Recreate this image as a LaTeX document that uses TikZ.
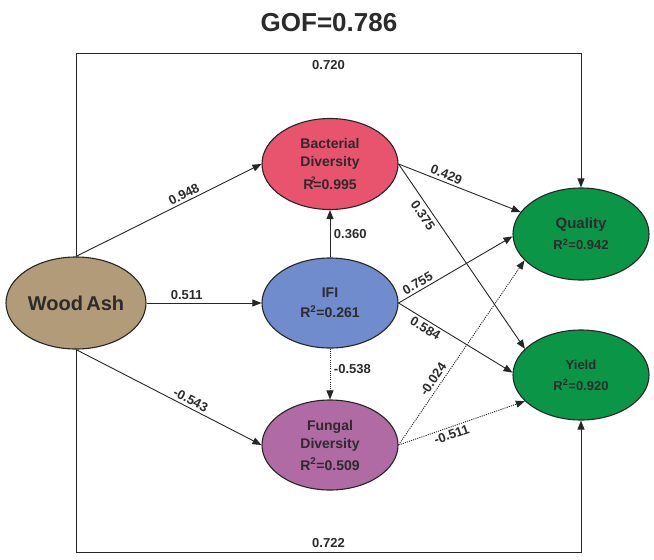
\documentclass[tikz,border=0pt]{standalone}
\usepackage{fontspec}
\setmainfont{Liberation Sans}
\usetikzlibrary{shapes.geometric,arrows.meta}
\definecolor{txt}{HTML}{2B2B2B}
\definecolor{cwood}{HTML}{B29B78}
\definecolor{cbac}{HTML}{E8546E}
\definecolor{cifi}{HTML}{708CCC}
\definecolor{cfun}{HTML}{B06AA4}
\definecolor{cgreen}{HTML}{0A9646}
\begin{document}
\begin{tikzpicture}[x=1pt,y=-1pt,
  ell/.style={ellipse, draw=black!85, line width=1.1pt, inner sep=0pt, text=txt, font=\bfseries, align=center},
  conn/.style={draw=black!85, line width=0.9pt, -{Triangle[length=9pt,width=7pt]}},
  dotconn/.style={conn, dash pattern=on 1.1pt off 1.1pt},
  lab/.style={font=\fontsize{13}{14}\selectfont\bfseries, text=txt, inner sep=2.5pt}]
\useasboundingbox (0,0) rectangle (654,560);
\fill[white] (0,0) rectangle (654,560);
\node[font=\fontsize{26}{30}\selectfont\bfseries, text=txt] (gof) at (329,23) {GOF=0.786};

\node[ell, fill=cwood, minimum width=140pt, minimum height=92pt, font=\fontsize{20}{24}\selectfont\bfseries] (wood) at (76,303) {Wood\,Ash};
\node[ell, fill=cbac, minimum width=136pt, minimum height=91pt, font=\fontsize{14}{18}\selectfont\bfseries] (bac) at (330,164) {Bacterial\\Diversity\\[5pt]R\makebox[0pt][c]{\raisebox{1.0ex}{\fontsize{8}{8}\selectfont 2}}=0.995};
\node[ell, fill=cifi, minimum width=136pt, minimum height=90pt, font=\fontsize{14}{20}\selectfont\bfseries] (ifi) at (330,303) {IFI\\R\textsuperscript{2}=0.261};
\node[ell, fill=cfun, minimum width=136pt, minimum height=90pt, font=\fontsize{14}{18}\selectfont\bfseries] (fun) at (330,445) {Fungal\\Diversity\\[4pt]R\textsuperscript{2}=0.509};
\node[ell, fill=cgreen, minimum width=136pt, minimum height=92pt, font=\fontsize{13}{21}\selectfont\bfseries] (qual) at (581,234) {{\fontsize{15}{15}\selectfont Quality}\\R\textsuperscript{2}=0.942};
\node[ell, fill=cgreen, minimum width=136pt, minimum height=90pt, font=\fontsize{13}{21}\selectfont\bfseries] (yield) at (581,375) {Yield\\R\textsuperscript{2}=0.920};

\coordinate (topy) at (0,53);
\coordinate (boty) at (0,552);

\draw[conn] (wood.north) |- (topy -| qual.north) node[lab, pos=0.75, below=4pt] {0.720} -- (qual.north);
\draw[conn] (wood.south) |- (boty -| yield.south) node[lab, pos=0.75, above=1pt] {0.722} -- (yield.south);

\draw[conn] (wood.north) -- (bac.west) node[lab, pos=0.6, sloped, above] {0.948};
\draw[conn] (wood.east) -- (ifi.west) node[lab, pos=0.35, above] {0.511};
\draw[conn] (wood.south) -- (fun.west) node[lab, pos=0.6, sloped, above] {-0.543};

\draw[conn] (ifi.north) -- (bac.south) node[lab, midway, right=1pt] {0.360};
\draw[dotconn] (ifi.south) -- (fun.north) node[lab, pos=0.4, right=1pt] {-0.538};

\draw[conn] (bac.east) -- (qual.160) node[lab, pos=0.37, sloped, above] {0.429};
\draw[conn] (bac.east) -- (yield.155) node[lab, pos=0.25, sloped, below=1pt] {0.375};
\draw[conn] (ifi.east) -- (qual.182) node[lab, pos=0.2, sloped, above] {0.755};
\draw[conn] (ifi.east) -- (yield.178) node[lab, pos=0.27, sloped, below] {0.584};
\draw[dotconn] (fun.east) -- (qual.205) node[lab, pos=0.33, sloped, above=1pt] {-0.024};
\draw[dotconn] (fun.east) -- (yield.205) node[lab, pos=0.4, sloped, below] {-0.511};
\end{tikzpicture}
\end{document}
